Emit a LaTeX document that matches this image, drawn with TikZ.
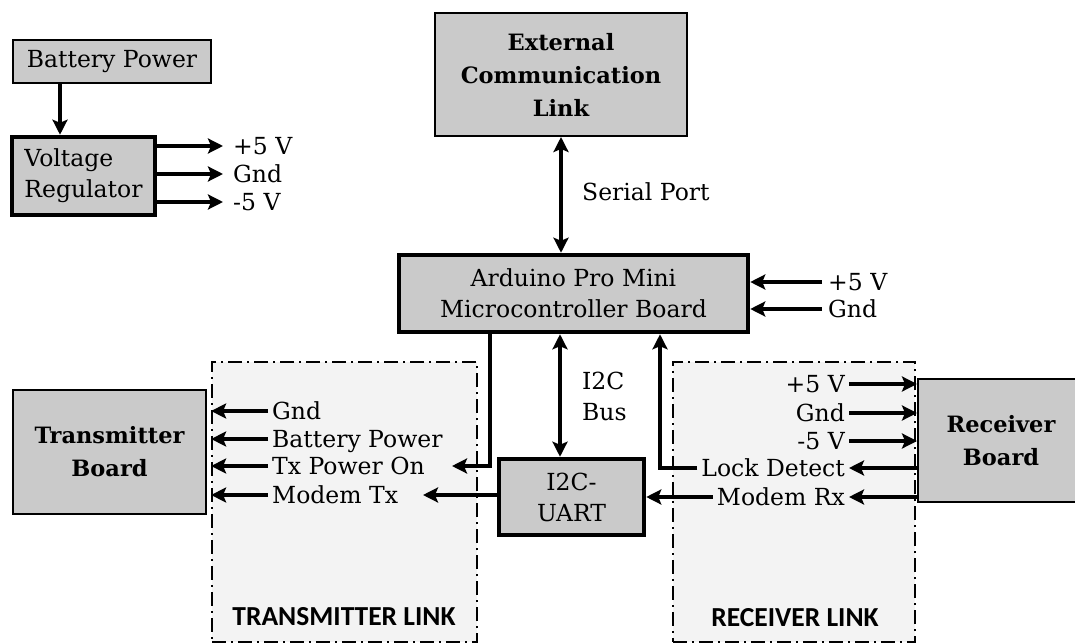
\documentclass[tikz,border=0pt]{standalone}
\usepackage{fontspec}
\setmainfont{DejaVu Serif}
\newfontfamily\carlito{Carlito}
\usetikzlibrary{arrows.meta,calc}
\definecolor{boxgray}{RGB}{202,202,202}
\definecolor{linkgray}{RGB}{243,243,243}
\begin{document}
\begin{tikzpicture}[x=1pt,y=-1pt,
 txt/.style={font=\fontsize{23.5}{31}\selectfont},
 boldtxt/.style={font=\fontsize{22.5}{33}\selectfont\bfseries},
 thinbox/.style={draw,line width=2pt,fill=boxgray,inner sep=0pt,align=center},
 thickbox/.style={draw,line width=4.5pt,fill=boxgray,inner sep=0pt,align=center},
 linkbox/.style={draw,line width=1.8pt,dash pattern=on 14pt off 5pt on 2pt off 5pt,fill=linkgray},
 lbl/.style={txt,inner ysep=0pt,inner xsep=4pt,text height=17pt,text depth=0pt},
 conn/.style={line width=3.5pt,-{Stealth[length=15pt,width=15pt,inset=3pt]}},
 biconn/.style={line width=3.5pt,{Stealth[length=15pt,width=15pt,inset=3pt]}-{Stealth[length=15pt,width=15pt,inset=3pt]}},
 linktitle/.style={font=\carlito\bfseries\fontsize{27.5}{30}\selectfont,inner sep=0pt}
]
\useasboundingbox (0,0) rectangle (1075,644);
% link regions
\node[linkbox,minimum width=265pt,minimum height=280pt] (txl) at (344.5,502) {};
\node[linkbox,minimum width=242pt,minimum height=280pt] (rxl) at (794,502) {};
\node[linktitle] (ttitle) at (344,617) {TRANSMITTER LINK};
\node[linktitle] (rtitle) at (795,618) {RECEIVER LINK};
% boxes
\node[thinbox,txt,minimum width=198pt,minimum height=43pt] (batt) at (112,61.5) {Battery Power};
\node[thickbox,txt,align=left,minimum width=143pt,minimum height=78pt] (vreg) at (83.5,176) {Voltage\\Regulator};
\node[thinbox,boldtxt,minimum width=252pt,minimum height=123pt] (ext) at (561,74.5) {External\\Communication\\Link};
\node[thickbox,txt,minimum width=349pt,minimum height=77pt] (ard) at (573.5,293.5) {Arduino Pro Mini\\Microcontroller Board};
\node[thickbox,txt,minimum width=145pt,minimum height=76pt] (uart) at (571.5,497) {I2C-\\UART};
\node[thinbox,boldtxt,minimum width=193pt,minimum height=124pt] (txb) at (109.5,452) {Transmitter\\Board};
\node[thinbox,boldtxt,minimum width=166pt,minimum height=123pt] (rxb) at (1001,440.5) {Receiver\\Board};
% labels
\node[lbl,anchor=west] (v5) at (229,146) {+5 V};
\node[lbl,anchor=west] (vgnd) at (229,174) {Gnd};
\node[lbl,anchor=west] (vm5) at (229,202) {-5 V};
\node[lbl,anchor=west] (a5) at (824,282) {+5 V};
\node[lbl,anchor=west] (agnd) at (824,309) {Gnd};
\node[txt,anchor=west,inner sep=4pt] (serial) at (578,192) {Serial Port};
\node[txt,anchor=west,align=left,inner sep=4pt] (bus) at (578,396) {I2C\\Bus};
\node[lbl,anchor=west] (tgnd) at (268,411) {Gnd};
\node[lbl,anchor=west] (tbat) at (268,439) {Battery Power};
\node[lbl,anchor=west] (ttxp) at (268,466) {Tx Power On};
\node[lbl,anchor=west] (tmtx) at (268,495) {Modem Tx};
\node[lbl,anchor=east] (r5) at (849,384) {+5 V};
\node[lbl,anchor=east] (rgnd) at (849,413) {Gnd};
\node[lbl,anchor=east] (rm5) at (849,441) {-5 V};
\node[lbl,anchor=east] (rlock) at (849,468) {Lock Detect};
\node[lbl,anchor=east] (rmrx) at (849,497) {Modem Rx};
% helper coordinates
\coordinate (bx) at (60,0);
\coordinate (busx) at (560,0);
\coordinate (txpx) at (490,0);
\coordinate (txptip) at (452,466);
\coordinate (lockx) at (660,0);
\coordinate (mtxtip) at (423,495);
% connectors
\draw[conn] (batt.south -| bx) -- (vreg.north -| bx);
\draw[conn,shorten >=6pt] (vreg.east |- v5.west) -- (v5.west);
\draw[conn,shorten >=6pt] (vreg.east |- vgnd.west) -- (vgnd.west);
\draw[conn,shorten >=6pt] (vreg.east |- vm5.west) -- (vm5.west);
\draw[biconn] (ext.south) -- (ard.north -| ext.south);
\draw[conn,shorten <=2pt] (a5.west) -- (ard.east |- a5.west);
\draw[conn,shorten <=2pt] (agnd.west) -- (ard.east |- agnd.west);
\draw[biconn] (ard.south -| busx) -- (uart.north -| busx);
\draw[conn] (ard.south -| txpx) |- (txptip);
\draw[conn] (uart.west |- tmtx.west) -- (mtxtip);
\draw[conn] (rlock.west) -| (ard.south -| lockx);
\draw[conn] (rmrx.west) -- (uart.east |- rmrx.west);
\draw[conn] (tgnd.west) -- (txl.west |- tgnd.west);
\draw[conn] (tbat.west) -- (txl.west |- tbat.west);
\draw[conn] (ttxp.west) -- (txl.west |- ttxp.west);
\draw[conn] (tmtx.west) -- (txl.west |- tmtx.west);
\draw[conn] (r5.east) -- (rxb.west |- r5.east);
\draw[conn] (rgnd.east) -- (rxb.west |- rgnd.east);
\draw[conn] (rm5.east) -- (rxb.west |- rm5.east);
\draw[conn] (rxb.west |- rlock.east) -- (rlock.east);
\draw[conn] (rxb.west |- rmrx.east) -- (rmrx.east);
\end{tikzpicture}
\end{document}
